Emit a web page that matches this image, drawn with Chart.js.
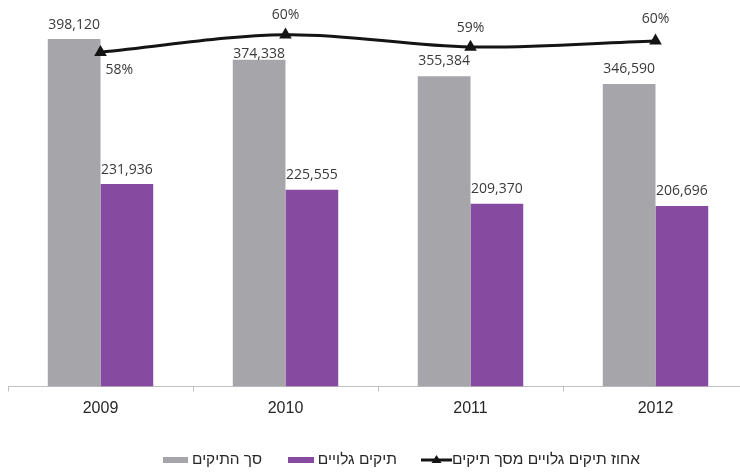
<!DOCTYPE html>
<html><head><meta charset="utf-8">
<script src="https://cdn.jsdelivr.net/npm/chart.js@4"></script>
<style>
html,body{margin:0;padding:0;background:#fff;overflow:hidden}
canvas{display:block}
</style></head><body>
<canvas id="c" width="740" height="473" style="width:740px;height:473px"></canvas>
<script>
const years = ['2009', '2010', '2011', '2012'];
const totalCases = [398120, 374338, 355384, 346590];
const openCases = [231936, 225555, 209370, 206696];
const openSharePct = [58.3, 60.3, 58.9, 59.6];
const seriesNames = ['סך התיקים', 'תיקים גלויים', 'אחוז תיקים גלויים מסך תיקים'];

// label placement (style only)
const totalLabelLift = [14.5, 5.5, 15.5, 15];
const openLabelLift = [14.5, 14.5, 14.5, 15.2];
const shareLabelPlace = [[5, 18, 'left'], [0, -20, 'center'], [0, -19, 'center'], [0, -22, 'center']];

const LINE_COLOR = '#141414';
const TEXT_COLOR = '#262626';

// plot frame of the original (the category axis runs past the right edge)
const PLOT = { left: 8, right: 748, top: 2.5, bottom: 386.5 };

const framePlugin = {
  id: 'plotFrame',
  afterLayout(chart) {
    const ca = chart.chartArea;
    ca.left = PLOT.left; ca.right = PLOT.right; ca.top = PLOT.top; ca.bottom = PLOT.bottom;
    ca.width = ca.right - ca.left; ca.height = ca.bottom - ca.top;
    const x = chart.scales.x;
    const xh = x.height;
    x.left = PLOT.left; x.right = PLOT.right; x.width = PLOT.right - PLOT.left;
    x.top = PLOT.bottom; x.bottom = PLOT.bottom + xh;
    x.configure();
    ['y', 'y2'].forEach((id) => {
      const s = chart.scales[id];
      s.top = PLOT.top; s.bottom = PLOT.bottom; s.height = PLOT.bottom - PLOT.top;
      s.configure();
    });
  }
};

const labelPlugin = {
  id: 'valueLabels',
  afterDatasetsDraw(chart) {
    const ctx = chart.ctx;
    ctx.save();
    ctx.font = '14px "Open Sans"';
    ctx.fillStyle = '#3a3a3a';
    ctx.textBaseline = 'middle';
    const m0 = chart.getDatasetMeta(0), m1 = chart.getDatasetMeta(1), m2 = chart.getDatasetMeta(2);
    ctx.textAlign = 'center';
    m0.data.forEach((el, i) => {
      ctx.fillText(totalCases[i].toLocaleString('en-US'), el.x, el.y - totalLabelLift[i]);
    });
    m1.data.forEach((el, i) => {
      ctx.fillText(openCases[i].toLocaleString('en-US'), el.x, el.y - openLabelLift[i]);
    });
    m2.data.forEach((el, i) => {
      const p = shareLabelPlace[i];
      ctx.textAlign = p[2];
      ctx.fillText(Math.round(openSharePct[i]) + '%', el.x + p[0], el.y + p[1]);
    });
    ctx.restore();
  }
};

// legend (bottom), laid out like the original: [key][text] per series
const legendKeys = [{ x: 163, w: 25 }, { x: 288, w: 26 }, { x: 421, w: 31 }];
const legendTextRight = [262, 397, 640];
const legendTextMax = [70, 80, 188];
const legendPlugin = {
  id: 'bottomLegend',
  afterDraw(chart) {
    const ctx = chart.ctx;
    const cy = 460;
    ctx.save();
    chart.data.datasets.forEach((ds, i) => {
      const k = legendKeys[i];
      if (ds.type === 'line') {
        ctx.strokeStyle = ds.borderColor; ctx.lineWidth = 3;
        ctx.beginPath(); ctx.moveTo(k.x, cy); ctx.lineTo(k.x + k.w, cy); ctx.stroke();
        const mx = k.x + k.w / 2;
        ctx.fillStyle = ds.borderColor;
        ctx.beginPath(); ctx.moveTo(mx, cy - 5); ctx.lineTo(mx + 5, cy + 3); ctx.lineTo(mx - 5, cy + 3); ctx.closePath(); ctx.fill();
      } else {
        ctx.fillStyle = ds.backgroundColor;
        ctx.fillRect(k.x, cy - 3, k.w, 6);
      }
      ctx.fillStyle = TEXT_COLOR;
      ctx.font = '15.5px "Liberation Sans"';
      ctx.textAlign = 'right';
      ctx.textBaseline = 'middle';
      ctx.fillText(ds.label, legendTextRight[i], cy, legendTextMax[i]);
    });
    ctx.restore();
  }
};

new Chart(document.getElementById('c'), {
  type: 'bar',
  data: {
    labels: years,
    datasets: [
      { type: 'bar', label: seriesNames[0], data: totalCases, backgroundColor: '#A6A6AA', yAxisID: 'y', order: 1, barPercentage: 1, categoryPercentage: 0.57 },
      { type: 'bar', label: seriesNames[1], data: openCases, backgroundColor: '#864BA0', yAxisID: 'y', order: 1, barPercentage: 1, categoryPercentage: 0.57 },
      { type: 'line', label: seriesNames[2], data: openSharePct, yAxisID: 'y2', order: 0, borderColor: LINE_COLOR, backgroundColor: LINE_COLOR, borderWidth: 3, tension: 0.35, pointStyle: 'triangle', pointRadius: 7.3, pointBackgroundColor: LINE_COLOR, pointBorderWidth: 0, clip: false }
    ]
  },
  options: {
    responsive: false,
    maintainAspectRatio: false,
    animation: false,
    events: [],
    layout: { padding: { left: 8, right: 0, top: 2.5, bottom: 48 } },
    scales: {
      x: {
        grid: { display: true, drawOnChartArea: false, tickLength: 5, color: '#BFBFBF', offset: true },
        border: { color: '#BFBFBF', width: 1 },
        ticks: { padding: 7, color: TEXT_COLOR, font: { family: 'Liberation Sans', size: 16 } }
      },
      y: { display: false, min: 0, max: 440000 },
      y2: { display: false, position: 'right', min: 20, max: 64 }
    },
    plugins: {
      tooltip: { enabled: false },
      legend: { display: false }
    }
  },
  plugins: [framePlugin, labelPlugin, legendPlugin]
});
</script>
</body></html>
